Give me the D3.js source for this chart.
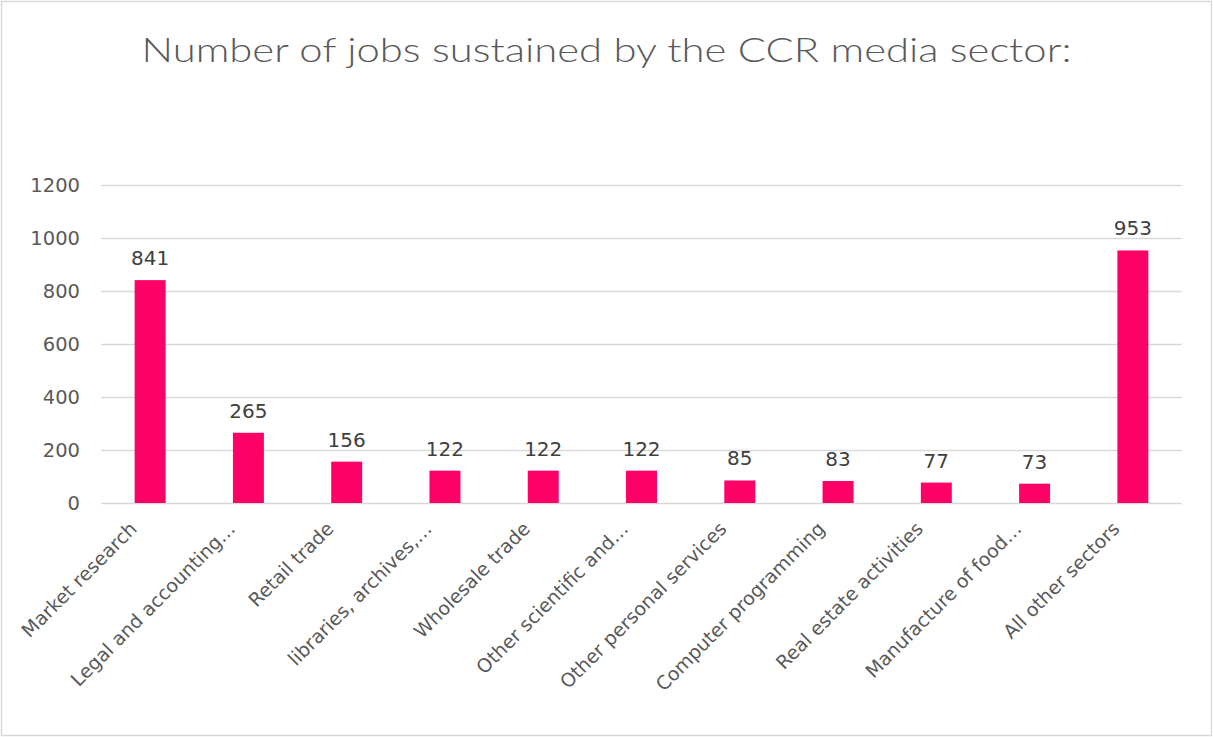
<!DOCTYPE html>
<html>
<head>
<meta charset="utf-8">
<script src="https://cdn.jsdelivr.net/npm/d3@7"></script>
<style>
  html, body { margin: 0; padding: 0; background: #fff; }
  svg { display: block; }
  text { font-family: "Century Gothic", "DejaVu Sans", sans-serif; }
</style>
</head>
<body>
<svg id="chart" width="1213" height="737"></svg>
<script>
const title = "Number of jobs sustained by the CCR media sector:";
const categories = [
  "Market research",
  "Legal and accounting\u2026",
  "Retail trade",
  "libraries, archives,\u2026",
  "Wholesale trade",
  "Other scientific and\u2026",
  "Other personal services",
  "Computer programming",
  "Real estate activities",
  "Manufacture of food\u2026",
  "All other sectors"
];
const values = [841, 265, 156, 122, 122, 122, 85, 83, 77, 73, 953];
const yTicks = [0, 200, 400, 600, 800, 1000, 1200];

const W = 1213, H = 737;
const margin = { left: 101, right: 31, top: 185, bottom: 234 };
const svg = d3.select("#chart");

svg.append("rect")
  .attr("x", 1.5).attr("y", 1.5)
  .attr("width", W - 3).attr("height", H - 3)
  .attr("fill", "#fff").attr("stroke", "#d9d9d9").attr("stroke-width", 1.5);

const x = d3.scaleBand()
  .domain(categories)
  .range([margin.left, W - margin.right])
  .paddingInner(0.685)
  .paddingOuter(0.3425);

const y = d3.scaleLinear()
  .domain([0, 1200])
  .range([H - margin.bottom, margin.top]);

// gridlines
svg.append("g")
  .selectAll("line")
  .data(yTicks)
  .join("line")
  .attr("x1", margin.left).attr("x2", W - margin.right)
  .attr("y1", d => Math.round(y(d)) + 0.5).attr("y2", d => Math.round(y(d)) + 0.5)
  .attr("stroke", "#d9d9d9").attr("stroke-width", 1.5);

// y axis labels
const yAxis = d3.axisLeft(y).tickValues(yTicks).tickFormat(d3.format("d")).tickSize(0).tickPadding(0);
const gy = svg.append("g").attr("transform", `translate(${margin.left - 21},0)`).call(yAxis);
gy.select(".domain").remove();
gy.selectAll("text")
  .attr("fill", "#595959")
  .style("font-family", "'Century Gothic', 'DejaVu Sans', sans-serif")
  .style("font-size", "19.5px")
  .attr("dy", "0.35em");

// bars
svg.append("g")
  .selectAll("rect")
  .data(values)
  .join("rect")
  .attr("x", (d, i) => x(categories[i]))
  .attr("width", x.bandwidth())
  .attr("y", d => y(d))
  .attr("height", d => y(0) - y(d))
  .attr("fill", "#ff0066");

// value labels
svg.append("g")
  .selectAll("text")
  .data(values)
  .join("text")
  .attr("x", (d, i) => x(categories[i]) + x.bandwidth() / 2)
  .attr("y", d => y(d) - 15)
  .attr("text-anchor", "middle")
  .attr("fill", "#404040")
  .style("font-size", "20px")
  .text(d => d);

// x axis labels
const xAxis = d3.axisBottom(x).tickSize(0).tickPadding(0);
const gx = svg.append("g").attr("transform", `translate(0,${y(0)})`).call(xAxis);
gx.select(".domain").remove();
gx.selectAll(".tick text")
  .attr("fill", "#595959")
  .style("font-family", "'Century Gothic', 'DejaVu Sans', sans-serif")
  .style("font-size", "19px")
  .attr("text-anchor", "end")
  .attr("dy", "0")
  .attr("transform", "translate(-12,27) rotate(-45)");

// title
svg.append("text")
  .attr("x", W / 2)
  .attr("y", 62)
  .attr("text-anchor", "middle")
  .attr("fill", "#595959")
  .style("font-family", "'Century Gothic', 'DejaVu Sans ExtraLight', Lato, sans-serif")
  .style("font-weight", "300")
  .style("font-size", "34px")
  .attr("textLength", 930)
  .attr("lengthAdjust", "spacingAndGlyphs")
  .text(title);
</script>
</body>
</html>
